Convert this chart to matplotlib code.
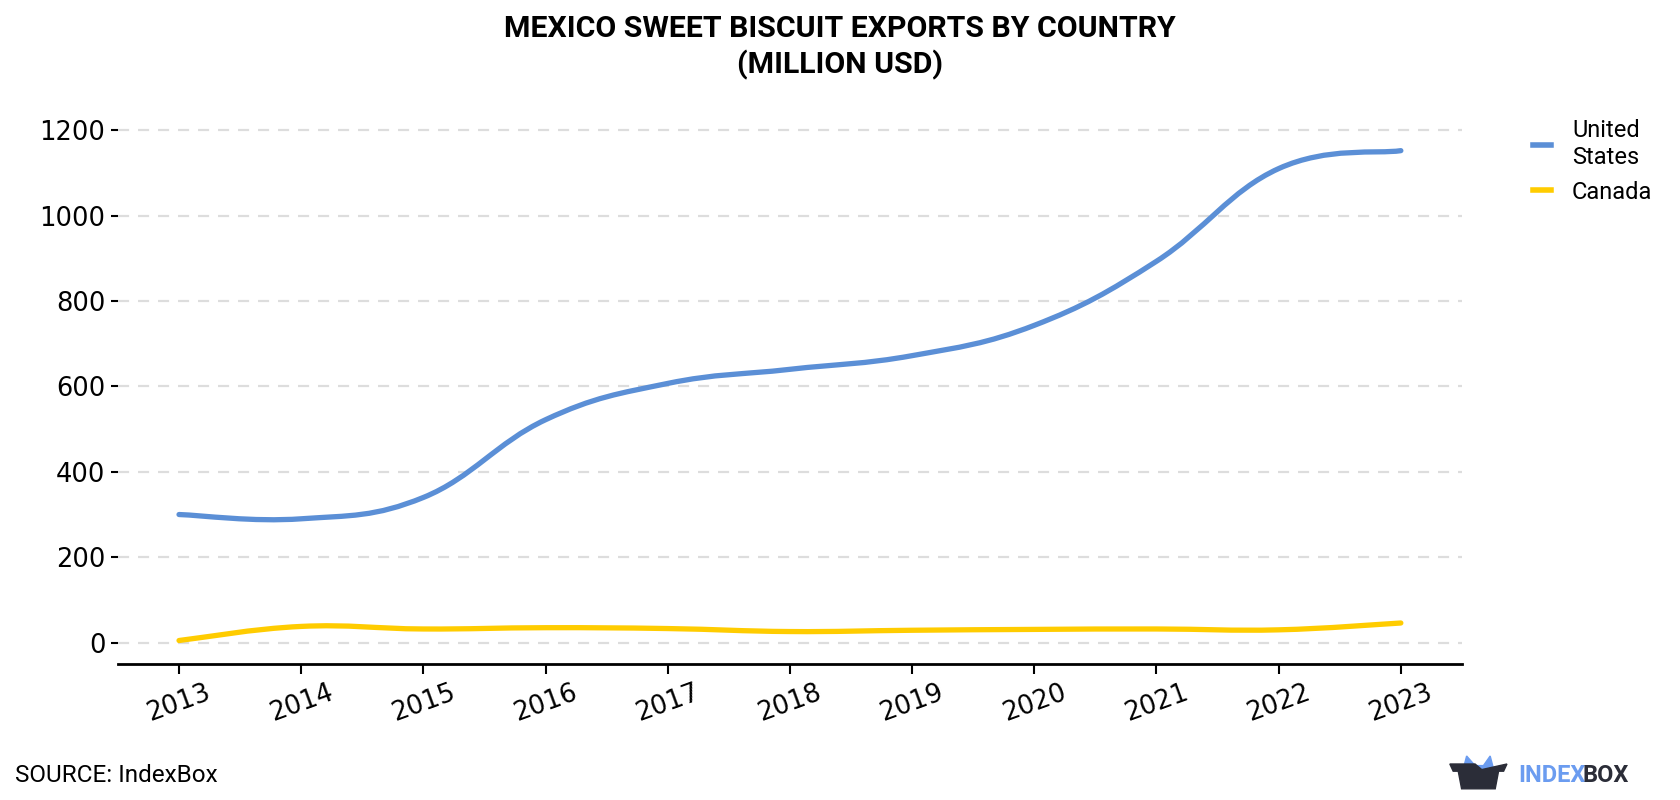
import matplotlib
matplotlib.use("Agg")
import matplotlib.pyplot as plt
from matplotlib.path import Path
from matplotlib.patches import PathPatch, Polygon
from matplotlib.lines import Line2D

years = [2013, 2014, 2015, 2016, 2017, 2018, 2019, 2020, 2021, 2022, 2023]
united_states = [300, 290, 340, 522, 607, 640, 672, 743, 893, 1110, 1152]
canada = [5, 38, 32, 35, 33, 26, 29, 31, 32, 30, 46]
series_names = ['United\nStates', 'Canada']
series_colors = ['#5b8fd6', '#ffcc00']
y_ticks = [0, 200, 400, 600, 800, 1000, 1200]


def smooth_path(xs, ys, t=0.2):
    # cubic bezier through the data points (catmull-rom style)
    verts = [(xs[0], ys[0])]
    codes = [Path.MOVETO]
    n = len(xs)
    for i in range(n - 1):
        x0, y0 = xs[max(i - 1, 0)], ys[max(i - 1, 0)]
        x1, y1 = xs[i], ys[i]
        x2, y2 = xs[i + 1], ys[i + 1]
        x3, y3 = xs[min(i + 2, n - 1)], ys[min(i + 2, n - 1)]
        c1 = (x1 + (x2 - x0) * t, y1 + (y2 - y0) * t)
        c2 = (x2 - (x3 - x1) * t, y2 - (y3 - y1) * t)
        verts += [c1, c2, (x2, y2)]
        codes += [Path.CURVE4] * 3
    return Path(verts, codes)


fig = plt.figure(figsize=(16.8, 8), dpi=100)
ax = fig.add_axes([0.0702, 0.17, 0.80, 0.694])

for vals, col in zip([united_states, canada], series_colors):
    patch = PathPatch(smooth_path(years, vals), facecolor='none', edgecolor=col,
                      lw=3.8, capstyle='round', zorder=3)
    ax.add_patch(patch)

ax.set_xlim(2012.5, 2023.5)
ax.set_ylim(-50, 1250)
ax.set_xticks(years)
ax.set_xticklabels([str(y) for y in years], rotation=20, fontsize=18.5)
ax.set_yticks(y_ticks)
ax.set_yticklabels([str(v) for v in y_ticks], fontsize=18.5)
ax.yaxis.grid(True, linestyle=(0, (5, 4)), color='#dddddd', lw=1.6)
ax.set_axisbelow(True)
for s in ['top', 'right', 'left']:
    ax.spines[s].set_visible(False)
ax.spines['bottom'].set_linewidth(2)
ax.tick_params(axis='x', length=7, width=1.5, pad=4)
ax.tick_params(axis='y', length=5, width=1.5, pad=4)

handles = [Line2D([], [], color=c, lw=4) for c in series_colors]
fig.legend(handles, series_names, loc='upper left', bbox_to_anchor=(0.9125, 0.851),
           frameon=False, prop={'family': 'Roboto', 'size': 17}, handlelength=0.75,
           handletextpad=0.9, labelspacing=0.5, borderaxespad=0, borderpad=0)

fig.text(0.5, 0.981, 'MEXICO SWEET BISCUIT EXPORTS BY COUNTRY\n(MILLION USD)',
         ha='center', va='top', fontsize=21.8, fontweight='bold', family='Roboto',
         linespacing=1.3)
fig.text(0.009, 0.030, 'SOURCE: IndexBox', fontsize=17.5, family='Roboto', va='center')

# logo
fig.text(0.904, 0.031, 'INDEX', fontsize=17, family='Roboto', fontweight='bold',
         color='#6b9cf0', va='center')
fig.text(0.9418, 0.031, 'BOX', fontsize=17, family='Roboto', fontweight='bold',
         color='#2b2d38', va='center')
blue_ears = Polygon([(0.870, 0.031), (0.873, 0.055), (0.878, 0.043), (0.883, 0.043),
                     (0.887, 0.055), (0.890, 0.031)], closed=True,
                    transform=fig.transFigure, color='#6b9cf0', zorder=2)
basket = Polygon([(0.863, 0.045), (0.878, 0.045), (0.882, 0.038), (0.897, 0.045),
                  (0.895, 0.036), (0.892, 0.036), (0.890, 0.014), (0.870, 0.014),
                  (0.868, 0.036), (0.865, 0.036)], closed=True,
                 transform=fig.transFigure, color='#2b2d38', zorder=3)
fig.patches.extend([blue_ears, basket])

fig.savefig('out.png', dpi=100)
